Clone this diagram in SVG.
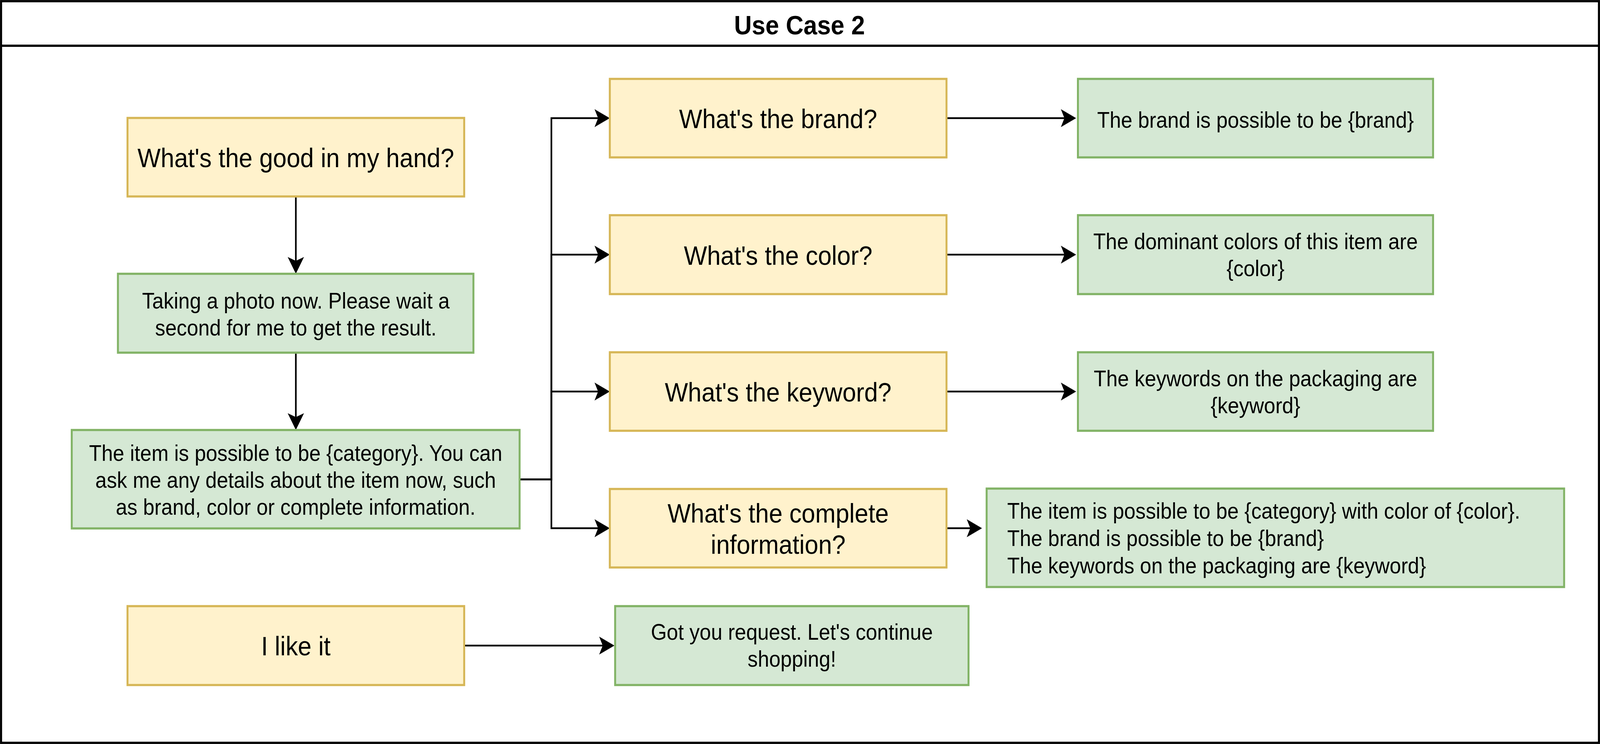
<svg xmlns="http://www.w3.org/2000/svg" width="4505" height="1905" viewBox="0 0 4505 1905" preserveAspectRatio="none" style="width:100vw;height:100vh;display:block">
  <defs>
    <marker id="arrow" markerUnits="userSpaceOnUse" viewBox="-12 -25 47 50" refX="0" refY="0" markerWidth="47" markerHeight="50" orient="auto">
      <path d="M33,0 L-10,-23 L0,0 L-10,23 Z" fill="#000"/>
    </marker>
  </defs>
  <style>
    text { font-family: "Liberation Sans", Arial, Helvetica, sans-serif; fill: #000; }
    .q rect { fill: #fff2cc; stroke: #d6b656; stroke-width: 5.5; }
    .a rect { fill: #d5e8d4; stroke: #82b366; stroke-width: 5.5; }
    .q text { font-size: 69px; text-anchor: middle; }
    .a text { font-size: 57.5px; text-anchor: middle; }
    .a text.left { text-anchor: start; }
    .edge { fill: none; stroke: #000; stroke-width: 4.6; marker-end: url(#arrow); }
  </style>

  <g id="frame">
    <rect x="3" y="3" width="4499" height="1899" fill="#fff" stroke="#000" stroke-width="5.75"/>
    <line x1="3" y1="117" x2="4502" y2="117" stroke="#000" stroke-width="5.75"/>
    <text x="2251" y="88" font-size="69" font-weight="bold" text-anchor="middle">Use Case 2</text>
  </g>

  <g id="connectors">
    <path class="edge" d="M833,503 V668"/>
    <path class="edge" d="M833,903 V1068"/>
    <path class="edge" d="M1463,1227.5 H1552.5 V302.5 H1684"/>
    <path class="edge" d="M1463,1227.5 H1552.5 V652 H1684"/>
    <path class="edge" d="M1463,1227.5 H1552.5 V1002.5 H1684"/>
    <path class="edge" d="M1463,1227.5 H1552.5 V1352.5 H1684"/>
    <path class="edge" d="M2665,302.5 H2997"/>
    <path class="edge" d="M2665,652 H2997"/>
    <path class="edge" d="M2665,1002.5 H2997"/>
    <path class="edge" d="M2665,1352.5 H2732"/>
    <path class="edge" d="M1307,1653 H1697"/>
  </g>

  <g id="q-good" class="q">
    <rect x="359" y="302" width="948" height="201"/>
    <text x="833" y="428">What's the good in my hand?</text>
  </g>
  <g id="a-photo" class="a">
    <rect x="332" y="701" width="1001" height="202"/>
    <text x="833" y="790">Taking a photo now. Please wait a</text>
    <text x="833" y="859">second for me to get the result.</text>
  </g>
  <g id="a-category" class="a">
    <rect x="202" y="1101" width="1261" height="252"/>
    <text x="832.5" y="1180">The item is possible to be {category}. You can</text>
    <text x="832.5" y="1249">ask me any details about the item now, such</text>
    <text x="832.5" y="1318">as brand, color or complete information.</text>
  </g>
  <g id="q-like" class="q">
    <rect x="359" y="1552" width="948" height="202"/>
    <text x="833" y="1678">I like it</text>
  </g>

  <g id="q-brand" class="q">
    <rect x="1717" y="202" width="948" height="201"/>
    <text x="2191" y="328">What's the brand?</text>
  </g>
  <g id="q-color" class="q">
    <rect x="1717" y="551" width="948" height="202"/>
    <text x="2191" y="678">What's the color?</text>
  </g>
  <g id="q-keyword" class="q">
    <rect x="1717" y="902" width="948" height="201"/>
    <text x="2191" y="1028">What's the keyword?</text>
  </g>
  <g id="q-complete" class="q">
    <rect x="1717" y="1252" width="948" height="201"/>
    <text x="2191" y="1338">What's the complete</text>
    <text x="2191" y="1418">information?</text>
  </g>

  <g id="a-brand" class="a">
    <rect x="3035" y="202" width="1000" height="201"/>
    <text x="3535" y="327">The brand is possible to be {brand}</text>
  </g>
  <g id="a-color" class="a">
    <rect x="3035" y="551" width="1000" height="202"/>
    <text x="3535" y="638">The dominant colors of this item are</text>
    <text x="3535" y="707">{color}</text>
  </g>
  <g id="a-keyword" class="a">
    <rect x="3035" y="902" width="1000" height="201"/>
    <text x="3535" y="989">The keywords on the packaging are</text>
    <text x="3535" y="1058">{keyword}</text>
  </g>
  <g id="a-complete" class="a">
    <rect x="2778" y="1251" width="1626" height="252"/>
    <text class="left" x="2836" y="1328">The item is possible to be {category} with color of {color}.</text>
    <text class="left" x="2836" y="1398">The brand is possible to be {brand}</text>
    <text class="left" x="2836" y="1468">The keywords on the packaging are {keyword}</text>
  </g>
  <g id="a-got" class="a">
    <rect x="1732" y="1552" width="995" height="202"/>
    <text x="2229.5" y="1638">Got you request. Let's continue</text>
    <text x="2229.5" y="1707">shopping!</text>
  </g>
</svg>
